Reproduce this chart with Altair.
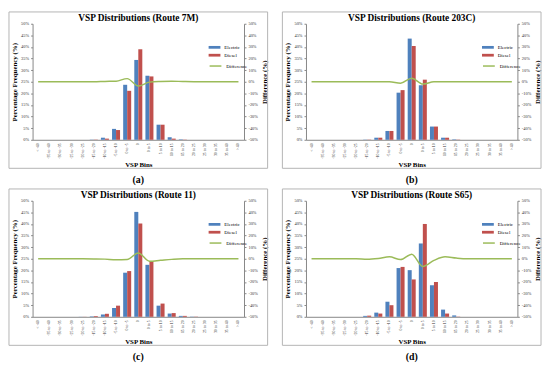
import altair as alt
import pandas as pd

SERIF = "Liberation Serif"

categories = ["< -40", "-35 to -40", "-30 to -35", "-25 to -30", "-20 to -25",
              "-15 to -20", "-10 to -15", "-5 to -10", "0 to -5", "0", "0 to 5",
              "5 to 10", "10 to 15", "15 to 20", "20 to 25", "25 to 30",
              "30 to 35", "35 to 40", "> 40"]

titles = ["VSP Distributions (Route 7M)", "VSP Distributions (Route 203C)",
          "VSP Distributions (Route 11)", "VSP Distributions (Route S65)"]
captions = ["(a)", "(b)", "(c)", "(d)"]
series_names = ["Electric", "Diesel", "Difference"]

electric_7m = [0, 0, 0, 0, 0, 0.1, 0.9, 4.7, 23.7, 34.4, 27.6, 6.5, 1.1, 0.2, 0, 0, 0, 0, 0]
diesel_7m = [0, 0, 0, 0, 0, 0.1, 0.5, 4.2, 21.1, 39.0, 27.3, 6.5, 0.5, 0.1, 0, 0, 0, 0, 0]
diff_7m = [0, 0, 0, 0, 0, 0, 0.3, 0.5, 2.7, -3.7, -0.3, 0.3, 0.5, 0.2, 0, 0, 0, 0, 0]

electric_203c = [0, 0, 0, 0, 0, 0.1, 0.9, 3.8, 20.3, 43.6, 23.5, 5.7, 0.9, 0.2, 0, 0, 0, 0, 0]
diesel_203c = [0, 0, 0, 0, 0, 0.1, 0.9, 3.8, 21.4, 40.4, 25.9, 5.7, 0.9, 0.1, 0, 0, 0, 0, 0]
diff_203c = [0, 0, 0, 0, 0, 0, 0, 0, -1.3, 3.1, -2.0, 0, 0, 0, 0, 0, 0, 0, 0]

electric_11 = [0, 0, 0, 0, 0.05, 0.2, 1.0, 3.8, 19.0, 45.2, 22.4, 4.8, 1.4, 0.4, 0.1, 0, 0, 0, 0]
diesel_11 = [0, 0, 0, 0, 0.05, 0.3, 1.3, 4.8, 19.7, 40.2, 23.9, 5.7, 1.6, 0.4, 0.1, 0, 0, 0, 0]
diff_11 = [0, 0, 0, 0, 0, -0.1, -0.3, -0.9, -0.6, 5.0, -2.1, -1.3, -0.5, 0, 0, 0, 0, 0, 0]

electric_s65 = [0, 0, 0, 0, 0, 0.4, 1.8, 6.5, 21.0, 20.1, 31.6, 13.6, 3.1, 0.6, 0, 0, 0, 0, 0]
diesel_s65 = [0, 0, 0, 0, 0, 0.5, 1.4, 5.0, 21.5, 16.1, 40.0, 15.0, 1.4, 0.1, 0, 0, 0, 0, 0]
diff_s65 = [0, 0, 0, 0, 0, -0.4, 0.3, 1.7, -0.7, 4.0, -6.6, -1.4, 1.7, 0.6, 0, 0, 0, 0, 0]

colors = ["#4F81BD", "#C0504D", "#9BBB59"]

PW, PH = 215, 118


def panel(title, caption, e, d, diff):
    bars_df = pd.DataFrame({
        "bin": categories * 2,
        "series": [series_names[0]] * len(categories) + [series_names[1]] * len(categories),
        "value": list(e) + list(d),
    })
    line_df = pd.DataFrame({
        "bin": categories,
        "series": [series_names[2]] * len(categories),
        "value": diff,
    })

    xenc = alt.X(
        "bin:N", sort=categories,
        scale=alt.Scale(paddingInner=0.28, paddingOuter=0.14),
        axis=alt.Axis(title="VSP Bins", labelAngle=270, labelFontSize=4,
                      labelPadding=3, ticks=False, titlePadding=2,
                      titleFontSize=7, titleFontWeight="bold"),
    )

    border = alt.Chart(pd.DataFrame({"k": [0]})).mark_rect(
        filled=False, stroke="#b4b4b4", strokeWidth=1
    ).encode(x=alt.value(-24), x2=alt.value(239), y=alt.value(-12), y2=alt.value(147))

    head = alt.Chart(pd.DataFrame({"t": [title]})).mark_text(
        font=SERIF, fontSize=9.5, fontWeight="bold", color="black", baseline="middle"
    ).encode(text="t:N", x=alt.value(PW / 2), y=alt.value(-6))

    cap = alt.Chart(pd.DataFrame({"t": [caption]})).mark_text(
        font=SERIF, fontSize=10, fontWeight="bold", color="black", baseline="middle"
    ).encode(text="t:N", x=alt.value(PW / 2), y=alt.value(159))

    bars = alt.Chart(bars_df).mark_bar().encode(
        x=xenc,
        xOffset=alt.XOffset("series:N", sort=series_names[:2],
                            scale=alt.Scale(paddingInner=0, paddingOuter=0)),
        y=alt.Y("value:Q", scale=alt.Scale(domain=[0, 50], nice=False),
                axis=alt.Axis(title="Percentage Frequency (%)", orient="left",
                              values=list(range(0, 51, 5)),
                              labelExpr="datum.value + '%'",
                              labelFontSize=4.5, tickSize=2, labelPadding=2,
                              titleFontSize=7, titleFontWeight="bold",
                              titlePadding=3, grid=False)),
        color=alt.Color("series:N",
                        scale=alt.Scale(domain=series_names[:2], range=colors[:2]),
                        legend=alt.Legend(title=None, orient="none", legendX=181,
                                          legendY=20,
                                          symbolType="M-1.5,-0.35H1.5V0.35H-1.5Z",
                                          symbolSize=64, symbolStrokeWidth=0,
                                          labelFont=SERIF, labelFontSize=5,
                                          labelOffset=6, rowPadding=1, padding=0)),
    )

    line = alt.Chart(line_df).mark_line(interpolate="monotone", strokeWidth=1.5).encode(
        x=xenc,
        y=alt.Y("value:Q", scale=alt.Scale(domain=[-50, 50], nice=False),
                axis=alt.Axis(title="Difference (%)", orient="right",
                              values=list(range(-50, 51, 10)),
                              labelExpr="datum.value + '%'",
                              labelFontSize=4.5, tickSize=2, labelPadding=2,
                              titleFontSize=7, titleFontWeight="bold",
                              titleAngle=270, titleBaseline="top",
                              titlePadding=3, grid=False)),
        stroke=alt.Stroke("series:N",
                          scale=alt.Scale(domain=[series_names[2]], range=[colors[2]]),
                          legend=alt.Legend(title=None, orient="none", legendX=181,
                                            legendY=38, symbolType="M-1.5,0H1.5",
                                            symbolSize=64, symbolStrokeWidth=1.5,
                                            labelFont=SERIF, labelFontSize=5,
                                            labelOffset=6, padding=0)),
    )

    return alt.layer(border, bars, line, head, cap).resolve_scale(
        y="independent"
    ).properties(width=PW, height=PH)


pa = panel(titles[0], captions[0], electric_7m, diesel_7m, diff_7m)
pb = panel(titles[1], captions[1], electric_203c, diesel_203c, diff_203c)
pc = panel(titles[2], captions[2], electric_11, diesel_11, diff_11)
pd_ = panel(titles[3], captions[3], electric_s65, diesel_s65, diff_s65)

res = dict(color="independent", stroke="independent", x="independent", y="independent")

chart = alt.concat(
    pa, pb, pc, pd_, columns=2, spacing={"row": 62, "column": 63}, bounds="flush"
).resolve_scale(**res).properties(
    padding=0
).configure_view(stroke=None).configure_axis(
    labelFont=SERIF, titleFont=SERIF, domainColor="#868686", tickColor="#868686",
    labelColor="#333333", titleColor="black"
)

chart.save("out.html", embed_options={"renderer": "svg", "actions": False})
